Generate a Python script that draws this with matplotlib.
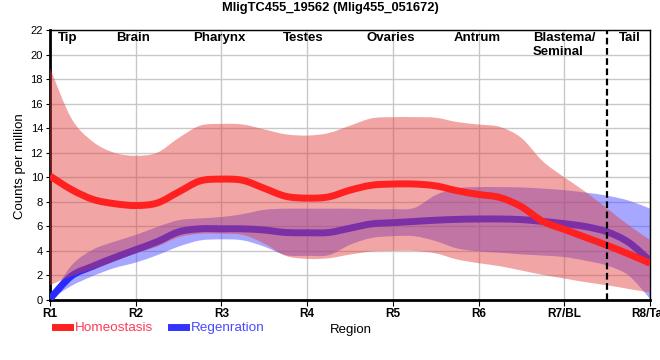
import numpy as np
import matplotlib
matplotlib.use("Agg")
import matplotlib.pyplot as plt
from matplotlib.path import Path
from matplotlib.patches import PathPatch
from matplotlib.lines import Line2D

plt.rcParams['font.family'] = ['Liberation Sans', 'DejaVu Sans']

# positions along the body (R1 = 1 ... R8 = 8), read every quarter region
pos = [1, 1.25, 1.5, 1.75, 2, 2.25, 2.5, 2.75, 3, 3.25, 3.5, 3.75, 4, 4.25, 4.5,
       4.75, 5, 5.25, 5.5, 5.75, 6, 6.25, 6.5, 6.75, 7, 7.25, 7.5, 7.75, 8]

homeo_mean = [10.1, 9.0, 8.2, 7.85, 7.7, 7.9, 8.8, 9.7, 9.85, 9.75, 9.1, 8.45, 8.3, 8.4, 8.95,
              9.35, 9.45, 9.45, 9.3, 8.9, 8.6, 8.35, 7.6, 6.4, 5.75, 5.1, 4.45, 3.75, 3.0]
homeo_upper = [18.9, 14.8, 12.9, 12.0, 11.75, 12.0, 13.2, 14.2, 14.35, 14.3, 13.9, 13.5, 13.4, 13.6, 14.2,
               14.8, 14.9, 14.9, 14.85, 14.5, 14.3, 14.1, 13.2, 11.3, 10.0, 8.8, 7.45, 6.1, 4.9]
homeo_lower = [1.2, 1.95, 2.5, 3.15, 3.8, 4.35, 5.1, 5.4, 5.4, 5.3, 4.6, 3.6, 3.35, 3.4, 3.7,
               3.95, 4.0, 4.0, 3.8, 3.3, 3.0, 2.75, 2.4, 2.05, 1.75, 1.45, 1.2, 0.9, 0.6]

regen_mean = [0.1, 1.95, 2.75, 3.45, 4.1, 4.75, 5.55, 5.8, 5.8, 5.8, 5.7, 5.5, 5.48, 5.5, 5.85,
              6.2, 6.3, 6.4, 6.5, 6.57, 6.6, 6.6, 6.55, 6.4, 6.22, 5.98, 5.55, 4.7, 3.2]
regen_upper = [0.1, 2.8, 4.1, 4.75, 5.3, 5.95, 6.5, 6.65, 6.76, 7.0, 7.35, 7.44, 7.44, 7.44, 7.44,
               7.4, 7.4, 7.5, 8.55, 9.1, 9.2, 9.2, 9.17, 9.08, 8.95, 8.75, 8.5, 8.1, 7.45]
regen_lower = [0.0, 1.15, 1.95, 2.6, 3.05, 3.65, 4.35, 4.85, 4.94, 4.86, 4.35, 3.65, 3.6, 3.65, 4.5,
               5.05, 5.2, 5.2, 4.8, 4.2, 3.96, 3.85, 3.72, 3.62, 3.5, 3.2, 2.8, 2.0, 0.1]

region_ticks = ['R1', 'R2', 'R3', 'R4', 'R5', 'R6', 'R7/BL', 'R8/Tail']
tissues = ['Tip', 'Brain', 'Pharynx', 'Testes', 'Ovaries', 'Antrum', 'Blastema/\nSeminal', 'Tail']
tissue_pos = [1.21, 1.97, 2.98, 3.95, 4.97, 5.98, 7.0, 7.76]


def smooth_segments(x, y):
    # catmull-rom spline written as cubic bezier segments
    verts = []
    n = len(x)
    for i in range(n - 1):
        xa, ya = (x[i - 1], y[i - 1]) if i > 0 else (x[i], y[i])
        xd, yd = (x[i + 2], y[i + 2]) if i + 2 < n else (x[i + 1], y[i + 1])
        c1 = (x[i] + (x[i + 1] - xa) / 6, y[i] + (y[i + 1] - ya) / 6)
        c2 = (x[i + 1] - (xd - x[i]) / 6, y[i + 1] - (yd - y[i]) / 6)
        verts += [c1, c2, (x[i + 1], y[i + 1])]
    return verts


def smooth_line(x, y):
    verts = [(x[0], y[0])] + smooth_segments(x, y)
    codes = [Path.MOVETO] + [Path.CURVE4] * (len(verts) - 1)
    return Path(verts, codes)


def smooth_band(x, lo, hi):
    top = [(x[0], hi[0])] + smooth_segments(x, hi)
    bot = smooth_segments(x[::-1], lo[::-1])
    verts = top + [(x[-1], lo[-1])] + bot + [(x[0], hi[0])]
    codes = ([Path.MOVETO] + [Path.CURVE4] * (len(top) - 1) + [Path.LINETO]
             + [Path.CURVE4] * len(bot) + [Path.CLOSEPOLY])
    return Path(verts, codes)


fig = plt.figure(figsize=(6.6, 3.6), dpi=100)
ax = fig.add_axes([50 / 660, 1 - 300 / 360, 600 / 660, 270 / 360])

red = '#ff2020'
blue = '#2a2aff'

ax.add_patch(PathPatch(smooth_band(pos, regen_lower, regen_upper),
                       facecolor='#5050ff', alpha=0.5, edgecolor='none', zorder=2))
ax.add_patch(PathPatch(smooth_line(pos, regen_mean), fill=False,
                       edgecolor=blue, lw=5, capstyle='butt', zorder=3))
ax.add_patch(PathPatch(smooth_band(pos, homeo_lower, homeo_upper),
                       facecolor='#e23939', alpha=0.45, edgecolor='none', zorder=4))
ax.add_patch(PathPatch(smooth_line(pos, homeo_mean), fill=False,
                       edgecolor=red, lw=5, capstyle='butt', zorder=5))

ax.axvline(7.5, color='black', lw=1.6, ls=(0, (3.0, 1.6)), zorder=6)

ax.set_xlim(1, 8)
ax.set_ylim(0, 22)
ax.set_xticks(range(1, 9))
ax.set_xticklabels(region_ticks, fontweight='bold', fontsize=8.5)
ax.set_yticks(range(0, 23, 2))
ax.tick_params(axis='y', labelsize=8, length=3, pad=2)
ax.tick_params(axis='x', length=4, pad=2)
ax.grid(color='#c8c8c8', lw=1)
ax.set_axisbelow(True)
for side in ['left', 'bottom']:
    ax.spines[side].set_linewidth(2)
for side in ['top', 'right']:
    ax.spines[side].set_linewidth(1)

for t, xp in zip(tissues, tissue_pos):
    ax.text(xp, 21.8, t, ha='center', va='top', fontsize=9.5, fontweight='bold',
            multialignment='left', zorder=7)

fig.text(330 / 660, 1 - 8 / 360, 'MligTC455_19562 (Mlig455_051672)', ha='center', va='center',
         fontsize=9.3, fontweight='bold')
fig.text(20 / 660, 1 - 166 / 360, 'Counts per million', rotation=90, ha='center', va='center',
         fontsize=9.5)
fig.text(351 / 660, 1 - 330 / 360, 'Region', ha='center', va='center', fontsize=9.5)

handles = [Line2D([], [], color=red, lw=5), Line2D([], [], color='#3333ff', lw=5)]
fig.legend(handles, ['Homeostasis', 'Regenration'], loc='center left',
           bbox_to_anchor=(55 / 660, 1 - 328 / 360), ncol=2, frameon=False,
           handlelength=1.1, handletextpad=0.4, columnspacing=1.3, fontsize=9.7,
           labelcolor=['#ff3a5a', '#4a4aff'], borderpad=0, borderaxespad=0)

fig.savefig('out.png', dpi=100)
